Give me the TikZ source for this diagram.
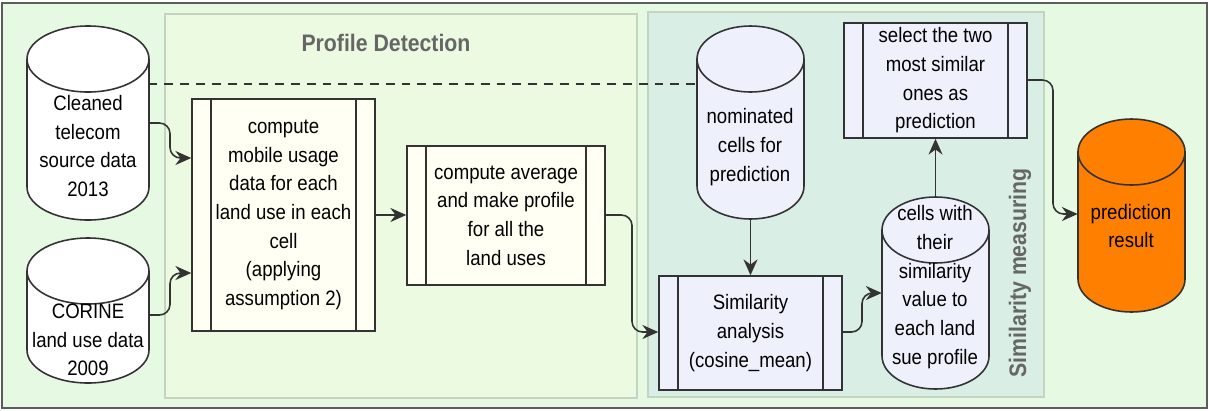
\documentclass[tikz,border=0pt]{standalone}
\usepackage{fontspec}
\setmainfont[FakeStretch=0.89]{Liberation Sans}
\usetikzlibrary{fit,calc,arrows.meta}

\definecolor{outerbg}{HTML}{E6F9E3}
\definecolor{profbg}{HTML}{EBFAE0}
\definecolor{simbg}{HTML}{D9EEE5}
\definecolor{groupline}{HTML}{C5D3C1}
\definecolor{linec}{HTML}{333333}
\definecolor{ivory}{HTML}{FFFFF4}
\definecolor{lavender}{HTML}{EEF1FB}
\definecolor{orangefill}{HTML}{FF8000}
\definecolor{titlegray}{HTML}{666666}

\tikzset{
  shapeline/.style={draw=linec, line width=0.9pt},
  proc/.style={shapeline, inner sep=0pt, align=center, font=\fontsize{11.9pt}{16.3pt}\selectfont},
  label text/.style={align=center, font=\fontsize{11.9pt}{16.3pt}\selectfont, inner sep=0pt},
  flow/.style={draw=linec, line width=0.9pt, rounded corners=6pt, -{Stealth[length=9pt,width=8pt]}},
  grouptitle/.style={font=\bfseries\fontsize{13.6pt}{16pt}\selectfont, text=titlegray}
}

% process box: name, x1, y1, x2, y2, fill, text
\newcommand\procbox[7]{%
  \node[proc, fill=#6, fit={(#2,-#3)(#4,-#5)}] (#1) {};
  \node[label text] at (#1.center) {#7};
  \draw[shapeline] ($(#1.north west)+(20,0)$) -- ($(#1.south west)+(20,0)$);
  \draw[shapeline] ($(#1.north east)+(-20,0)$) -- ($(#1.south east)+(-20,0)$);
}

% database cylinder: name, x1, y1, x2, y2, fill
\newcommand\dbcyl[6]{%
  \pgfmathsetmacro\cylrx{(#4-#2)/2}%
  \def\cylry{33}%
  \node[fit={(#2,-#3)(#4,-#5)}, inner sep=0pt] (#1) {};
  \filldraw[shapeline, fill=#6] (#2,-#3-\cylry) -- (#2,-#5+\cylry)
    arc[start angle=180, end angle=360, x radius=\cylrx, y radius=\cylry]
    -- (#4,-#3-\cylry)
    arc[start angle=0, end angle=180, x radius=\cylrx, y radius=\cylry] -- cycle;
  \draw[shapeline] (#2,-#3-\cylry)
    arc[start angle=180, end angle=360, x radius=\cylrx, y radius=\cylry];
}

\begin{document}
\begin{tikzpicture}[x=0.02cm, y=0.02cm]
  \useasboundingbox (0,0) rectangle (1209,-410);

  % outer frame
  \draw[fill=outerbg, draw=linec!80, line width=1.2pt] (2,-3) rectangle (1207,-408);

  % groups
  \draw[fill=profbg, draw=groupline, line width=1pt] (165,-14) rectangle (637,-398);
  \node[grouptitle] (ptitle) at (386,-43) {Profile Detection};
  \draw[fill=simbg, draw=groupline, line width=1pt] (648,-12) rectangle (1044,-397);
  \node[grouptitle, rotate=90] (stitle) at (1020,-273) {Similarity measuring};

  % data sources
  \dbcyl{src1}{27}{26}{149}{220}{white}
  \node[label text] (src1t) at (88,-146) {Cleaned\\telecom\\source data\\2013};
  \dbcyl{src2}{27}{238}{149}{383}{white}
  \node[label text] (src2t) at (88,-340) {CORINE\\land use data\\2009};

  % profile detection steps
  \procbox{usage}{192}{99}{375}{331}{ivory}{compute\\mobile usage\\data for each\\land use in each\\cell\\(applying\\assumption 2)}
  \procbox{avg}{407}{146}{605}{285}{ivory}{compute average\\and make profile\\for all the\\land uses}

  % similarity measuring
  \dbcyl{nom}{697}{26}{804}{219}{lavender}
  \node[label text] (nomt) at (750,-147) {nominated\\cells for\\prediction};
  \procbox{sim}{659}{276}{842}{390}{lavender}{Similarity\\analysis\\(cosine\_mean)}
  \dbcyl{cells}{882}{197}{989}{389}{lavender}
  \node[label text] (cellst) at (935,-287) {cells with\\their\\similarity\\value to\\each land\\sue profile};
  \procbox{sel}{844}{23}{1027}{138}{lavender}{select the two\\most similar\\ones as\\prediction}

  % result
  \dbcyl{res}{1078}{119}{1185}{312}{orangefill}
  \node[label text] (rest) at (1131,-226) {prediction\\result};

  % dashed separator from the telecom data to the nominated cells
  \draw[dashed, draw=linec, line width=0.9pt, dash pattern=on 5pt off 4pt]
    (src1.west |- 0,-84) ++(122,0) coordinate (dsA) -- (nom.west |- dsA);

  % flows
  \draw[flow] (src1.east |- 0,-123) -- (170,-123) -- (170,-158) -- (usage.west |- 0,-158);
  \draw[flow] (src2.east |- 0,-315) -- (170,-315) -- (170,-273) -- (usage.west |- 0,-273);
  \draw[flow] (usage.east |- 0,-215) -- (avg.west |- 0,-215);
  \draw[flow] (avg.east |- 0,-215) -- (632,-215) -- (632,-332) -- (sim.west |- 0,-332);
  \draw[flow] (nom.south) -- (sim.north);
  \draw[flow] (sim.east |- 0,-332) -- (862,-332) -- (862,-293) -- (cells.west |- 0,-293);
  \draw[flow] (cells.north) -- (sel.south);
  \draw[flow] (sel.east |- 0,-80) -- (1053,-80) -- (1053,-214) -- (res.west |- 0,-214);
\end{tikzpicture}
\end{document}
